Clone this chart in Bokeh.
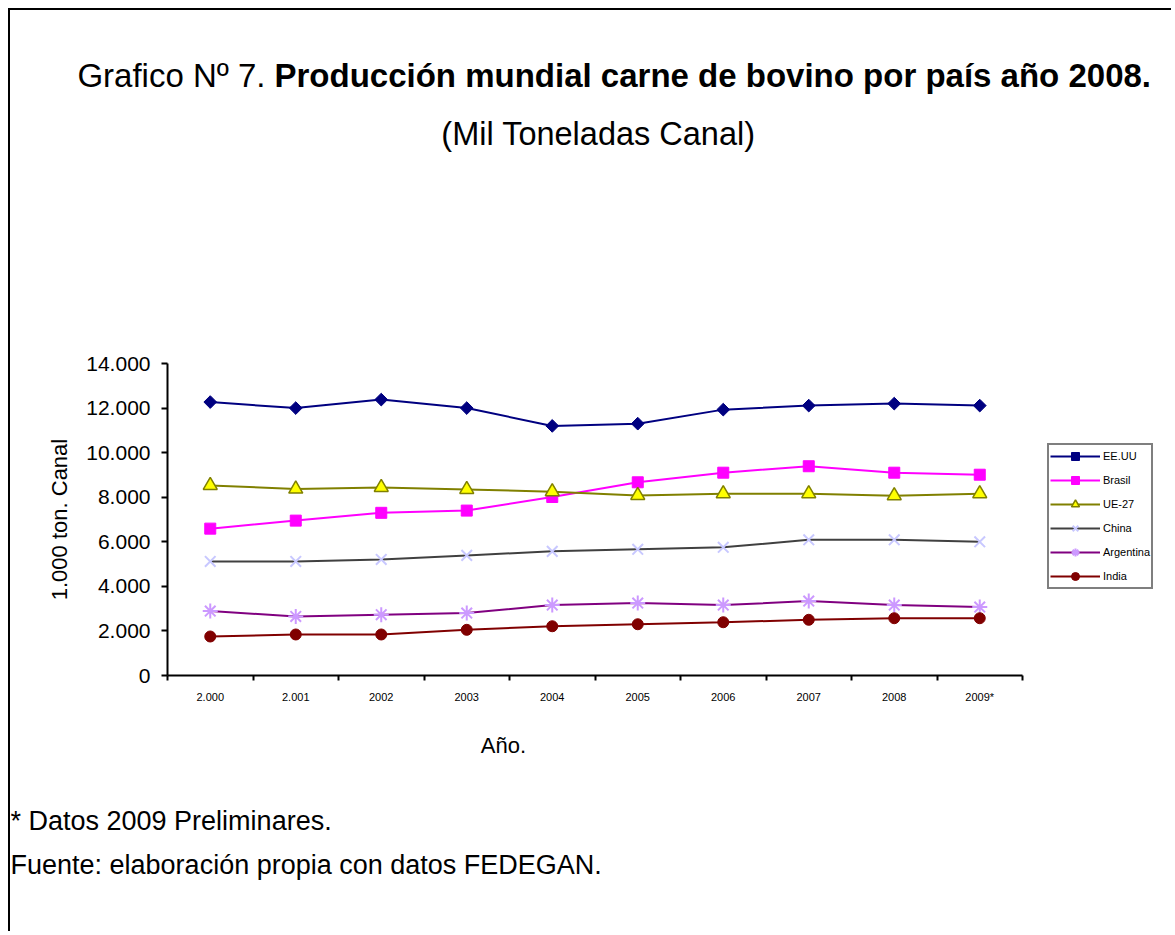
import numpy as np
from bokeh.plotting import figure
from bokeh.models import FixedTicker, Label, Range1d
from bokeh.embed import file_html
from bokeh.resources import INLINE

# ---------------- data ----------------
years = ["2.000", "2.001", "2002", "2003", "2004", "2005", "2006", "2007", "2008", "2009*"]
eeuu = [12270, 12000, 12380, 12000, 11200, 11300, 11930, 12110, 12200, 12110]
brasil = [6590, 6950, 7300, 7400, 8010, 8670, 9100, 9390, 9100, 9010]
ue27 = [8530, 8370, 8440, 8350, 8250, 8080, 8160, 8160, 8070, 8160]
china = [5120, 5120, 5210, 5390, 5570, 5660, 5750, 6090, 6090, 6000]
argentina = [2890, 2650, 2730, 2800, 3160, 3250, 3160, 3340, 3160, 3070]
india = [1750, 1840, 1840, 2050, 2210, 2300, 2390, 2500, 2570, 2570]

yticks = [0, 2000, 4000, 6000, 8000, 10000, 12000, 14000]
ytick_labels = ["0", "2.000", "4.000", "6.000", "8.000", "10.000", "12.000", "14.000"]

title_normal = "Grafico Nº 7."
title_bold = "Producción mundial carne de bovino por país año 2008."
subtitle = "(Mil Toneladas Canal)"
ylabel = "1.000 ton. Canal"
xlabel = "Año."
note1 = "* Datos 2009 Preliminares."
note2 = "Fuente: elaboración propia con datos FEDEGAN."

FONT = "Liberation Sans"

# ---------------- layout constants (pixels) ----------------
W, H = 1163, 923            # canvas size
PLOT_L, PLOT_R = 157, 1012  # where the category axis starts / ends
PLOT_T, PLOT_B = 353, 665   # where 14.000 / 0 sit
YMAX = 14000
NCAT = len(years)

# extend the data ranges so that the drawing area covers the whole canvas
px_x = (PLOT_R - PLOT_L) / NCAT
px_y = (PLOT_B - PLOT_T) / YMAX
x_range = Range1d(-PLOT_L / px_x, NCAT + (W - PLOT_R) / px_x)
y_range = Range1d(-(H - PLOT_B) / px_y, YMAX + PLOT_T / px_y)

p = figure(width=W, height=H, output_backend="svg", toolbar_location=None,
           x_range=x_range, y_range=y_range, min_border=0)
p.styles = {"margin-left": "8px", "margin-top": "8px",
            "border-top": "2px solid black", "border-left": "2px solid black"}
p.outline_line_color = None
p.xgrid.grid_line_color = None
p.ygrid.grid_line_color = None

xpos = [i + 0.5 for i in range(NCAT)]
bounds = list(range(NCAT + 1))

# x axis (labels at category centres, ticks between categories)
xa = p.xaxis[0]
xa.fixed_location = 0
xa.bounds = (0, NCAT)
xa.ticker = FixedTicker(ticks=xpos, minor_ticks=bounds)
xa.major_label_overrides = {x: lab for x, lab in zip(xpos, years)}
xa.major_tick_line_color = None
xa.major_tick_in = 0
xa.major_tick_out = 0
xa.minor_tick_line_color = "black"
xa.minor_tick_line_width = 2
xa.minor_tick_in = 0
xa.minor_tick_out = 5
xa.major_label_standoff = 10
xa.major_label_text_font = FONT
xa.major_label_text_font_size = "11px"
xa.major_label_text_color = "black"
xa.axis_line_color = "black"
xa.axis_line_width = 2

# y axis
ya = p.yaxis[0]
ya.fixed_location = 0
ya.bounds = (0, YMAX)
ya.ticker = FixedTicker(ticks=yticks, minor_ticks=[])
ya.major_label_overrides = {v: lab for v, lab in zip(yticks, ytick_labels)}
ya.major_tick_in = 0
ya.major_tick_out = 6
ya.major_tick_line_width = 2
ya.major_tick_line_color = "black"
ya.minor_tick_line_color = None
ya.major_label_standoff = 11
ya.major_label_text_font = FONT
ya.major_label_text_font_size = "21px"
ya.major_label_text_color = "black"
ya.axis_line_color = "black"
ya.axis_line_width = 2
ya.axis_label = ylabel
ya.axis_label_text_font = FONT
ya.axis_label_text_font_size = "22px"
ya.axis_label_text_font_style = "normal"
ya.axis_label_text_color = "black"
ya.axis_label_standoff = 11

series = [
    ("EE.UU", eeuu, "#000080", dict(marker="square", angle=np.pi / 4, size=9,
                                    fill_color="#000080", line_color="#000080")),
    ("Brasil", brasil, "#FF00FF", dict(marker="square", size=11,
                                       fill_color="#FF00FF", line_color="#FF00FF")),
    ("UE-27", ue27, "#808000", dict(marker="triangle", size=14, fill_color="#FFFF00",
                                    line_color="#808000", line_width=1.5)),
    ("China", china, "#404040", dict(marker="x", size=15, line_color="#C8C8FF",
                                     line_width=2)),
    ("Argentina", argentina, "#800080", dict(marker="asterisk", size=15,
                                             line_color="#CC99FF", line_width=2)),
    ("India", india, "#800000", dict(marker="circle", size=11,
                                     fill_color="#800000", line_color="#800000")),
]

for name, vals, col, mk in series:
    p.line(xpos, vals, line_color=col, line_width=2, legend_label=name)
    p.scatter(xpos, vals, legend_label=name, **mk)

lg = p.legend[0]
lg.location = (1037, 344)
lg.border_line_color = "black"
lg.border_line_width = 2
lg.background_fill_alpha = 1
lg.label_text_font = FONT
lg.label_text_font_size = "11px"
lg.label_text_color = "black"
lg.glyph_width = 50
lg.glyph_height = 20
lg.label_height = 20
lg.label_standoff = 3
lg.spacing = 4
lg.padding = 1
lg.margin = 0


# texts (screen pixels from the canvas' bottom-left corner)
def add_label(text, x, y, size, align="left", style="normal"):
    p.add_layout(Label(x=x, y=y, x_units="screen", y_units="screen", text=text,
                       text_font=FONT, text_font_size=size, text_align=align,
                       text_baseline="middle", text_font_style=style,
                       text_color="black"))


add_label(title_normal, 255, 858, "33px", align="right")
add_label(title_bold, 264, 858, "33px", style="bold")
add_label(subtitle, 588, 800, "32.5px", align="center")
add_label(xlabel, 493, 188, "22px", align="center")
add_label(note1, 0, 113, "27px")
add_label(note2, 0, 69, "27px")

open("out.html", "w").write(file_html(p, INLINE))
